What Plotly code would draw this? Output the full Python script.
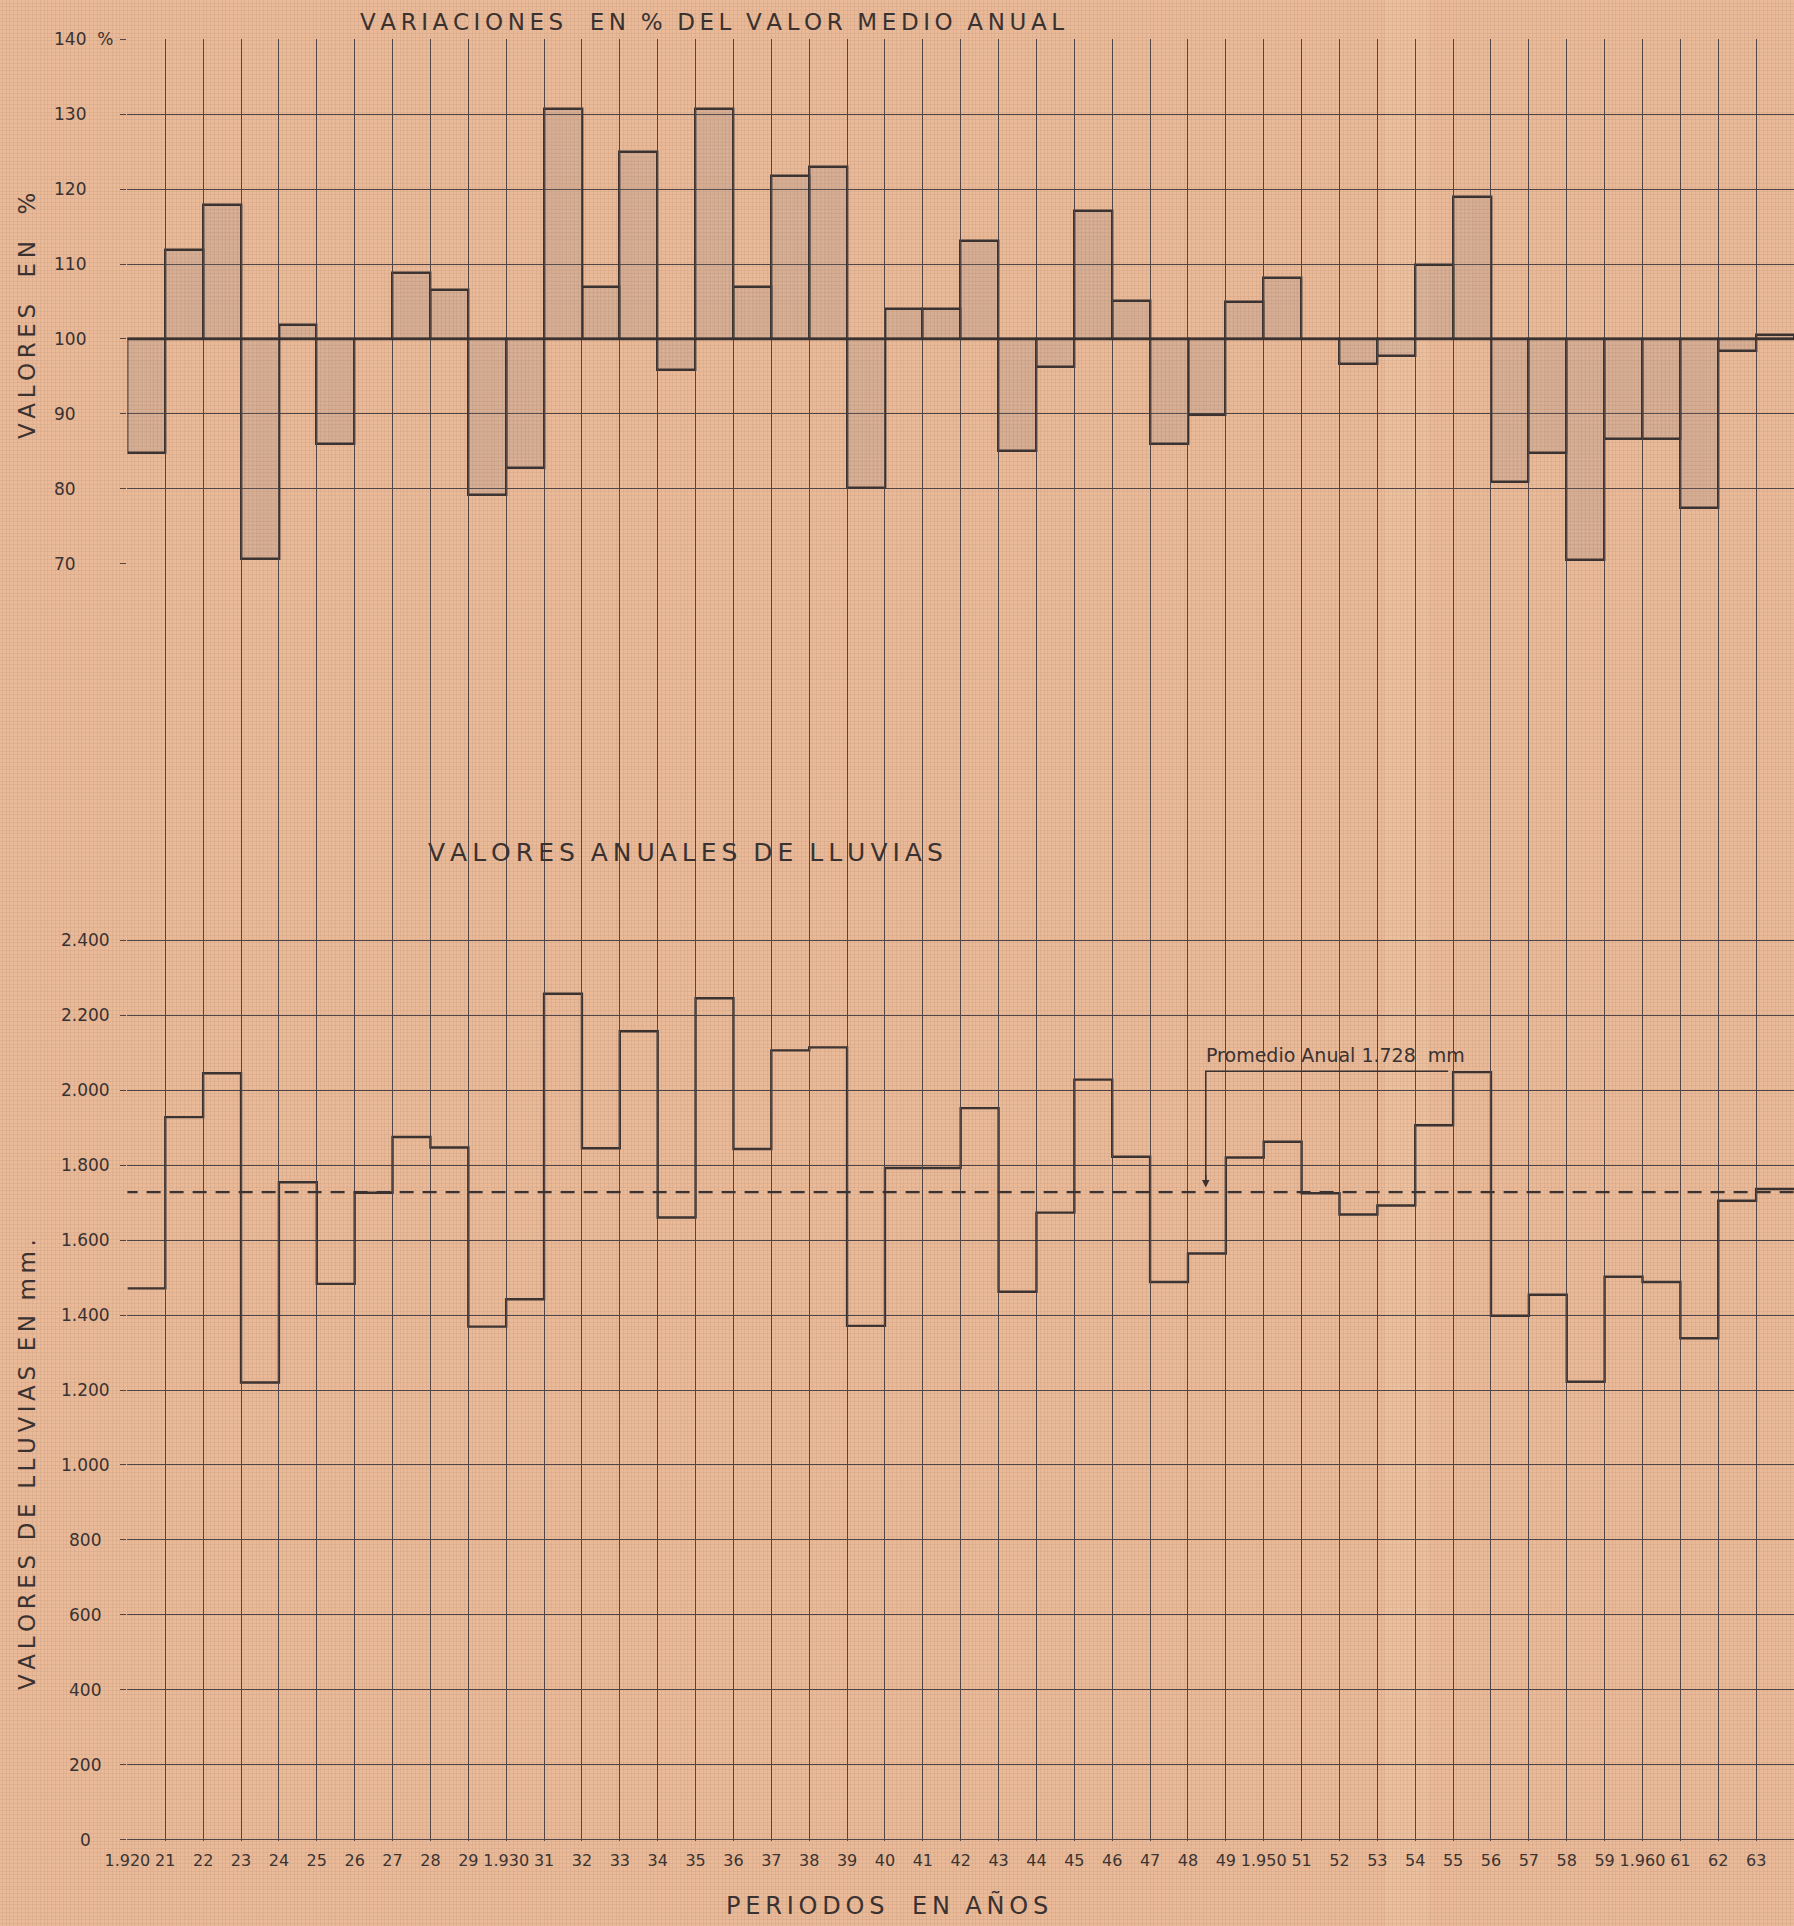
import plotly.graph_objects as go

# --- data ---
YEARS = list(range(1920, 1964))

PCT = [84.8, 111.9, 117.9, 70.6, 101.9, 86.0, 100.0, 108.8, 106.6, 79.1,
       82.8, 130.7, 106.9, 124.9, 95.8, 130.7, 106.9, 121.7, 123.0, 80.1,
       104.0, 104.0, 113.1, 85.0, 96.2, 117.1, 105.1, 86.0, 89.9, 105.0,
       108.1, 100.0, 96.7, 97.7, 109.9, 118.9, 80.9, 84.8, 70.5, 86.6,
       86.6, 77.4, 98.4, 100.5]

MM = [1471, 1928, 2045, 1220, 1754, 1483, 1726, 1875, 1847, 1369,
      1442, 2257, 1845, 2157, 1660, 2245, 1843, 2106, 2114, 1371,
      1792, 1792, 1952, 1462, 1673, 2028, 1822, 1488, 1564, 1820,
      1862, 1725, 1668, 1692, 1906, 2048, 1398, 1454, 1222, 1502,
      1488, 1338, 1705, 1736]

MEAN_MM = 1728
BASE_PCT = 100

X_TICKS = list(range(1920, 1965))
X_LABELS = ["1.920" if y == 1920 else "1.930" if y == 1930 else "1.950" if y == 1950
            else "1.960" if y == 1960 else "1.964" if y == 1964 else str(y)[2:]
            for y in X_TICKS]
PCT_TICKS = [70, 80, 90, 100, 110, 120, 130, 140]
MM_TICKS = list(range(0, 2401, 200))

# --- page geometry (pixels) ---
W, H = 1794, 1926
X0_PX = 127.4          # 1920 line
TOP140_PX, TOP70_PX = 39, 564
BOT2400_PX, BOT0_PX = 939, 1841

BG = "#E9B998"
INK = "#3a3231"
GRID = "#4f4546"
FONT = "DejaVu Sans"


def fx(px):
    return px / W


def fy(py):
    return 1 - py / H


def spaced(s):
    # hand lettering is letter-spaced
    return "\u2009".join(s).replace("\u2009 \u2009", "\u00a0\u00a0")


x_dom = [fx(X0_PX), 1.0]
x_span = X_TICKS[-1] - X_TICKS[0]
x3_lo = X_TICKS[0] - x_span * x_dom[0] / (1 - x_dom[0])

y2_dom = [fy(BOT0_PX), fy(BOT2400_PX)]
mm_per = 2400 / (y2_dom[1] - y2_dom[0])
y3_lo = -y2_dom[0] * mm_per
y3_hi = 2400 + (1 - y2_dom[1]) * mm_per

fig = go.Figure()

# faint graph-paper grid
fig.add_trace(go.Scatter(x=[], y=[], xaxis="x3", yaxis="y3", showlegend=False))
# full-height subplot so the year lines run through the gap between panels
fig.add_trace(go.Scatter(x=[], y=[], xaxis="x", yaxis="y4", showlegend=False))

# top panel: deviation bars around 100 %
fig.add_trace(go.Bar(
    x=[y + 0.5 for y in YEARS],
    y=[p - BASE_PCT for p in PCT],
    base=BASE_PCT,
    width=1,
    xaxis="x", yaxis="y",
    marker=dict(color="rgba(130,125,130,0.16)",
                line=dict(color=INK, width=2.4),
                pattern=dict(shape="+", size=4, solidity=0.2,
                             fgcolor="rgba(85,80,85,0.22)", fillmode="overlay")),
    showlegend=False,
))

# bottom panel: annual rainfall as steps
fig.add_trace(go.Scatter(
    x=YEARS + [YEARS[-1] + 1],
    y=MM + [MM[-1]],
    mode="lines",
    line=dict(shape="hv", color=INK, width=2.4),
    xaxis="x", yaxis="y2",
    showlegend=False,
))

# lighter fold in the paper
fig.add_shape(type="rect", xref="paper", yref="paper", x0=fx(1385), x1=fx(1428),
              y0=0, y1=1, fillcolor="rgba(255,225,195,0.16)", line=dict(width=0),
              layer="below")

fig.add_shape(type="line", xref="x", yref="y", x0=X_TICKS[0], x1=X_TICKS[-1],
              y0=BASE_PCT, y1=BASE_PCT, line=dict(color=INK, width=2.6))
fig.add_shape(type="line", xref="x", yref="y2", x0=X_TICKS[0] - 0.1, x1=X_TICKS[-1],
              y0=MEAN_MM, y1=MEAN_MM, line=dict(color=INK, width=2.2, dash="14px,9px"))

# label of the mean with its leader
lx0, lx1, ly = 1948.47, 1954.87, 2050
fig.add_shape(type="path", xref="x", yref="y2",
              path=f"M {lx1},{ly} L {lx0},{ly} L {lx0},{MEAN_MM + 30}",
              line=dict(color=INK, width=1.5))
fig.add_annotation(x=lx0, y=MEAN_MM + 12, xref="x", yref="y2", text="",
                   showarrow=True, arrowhead=2, arrowsize=1, arrowwidth=1.5,
                   arrowcolor=INK, ax=0, ay=-14)
fig.add_annotation(x=lx0 - 0.05, y=ly + 10, xref="x", yref="y2",
                   text="Promedio Anual 1.728\u00a0\u00a0mm", showarrow=False,
                   xanchor="left", yanchor="bottom",
                   font=dict(family=FONT, size=19, color=INK))

# y tick labels (hand lettered positions)
for v in PCT_TICKS:
    txt = f"{v}\u00a0\u00a0%" if v == 140 else str(v)
    fig.add_annotation(x=fx(52), y=v, xref="paper", yref="y", text=txt,
                       showarrow=False, xanchor="left",
                       font=dict(family=FONT, size=17, color=INK))
for v in MM_TICKS:
    fig.add_annotation(x=fx(85), y=v, xref="paper", yref="y2",
                       text=f"{v:,}".replace(",", "."), showarrow=False,
                       xanchor="center", font=dict(family=FONT, size=17, color=INK))

titles = [
    (spaced("VARIACIONES  EN % DEL VALOR MEDIO ANUAL"), 712, 22, 0, 23),
    (spaced("VALORES ANUALES DE LLUVIAS"), 685, 852, 0, 25),
    (spaced("PERIODOS  EN AÑOS"), 887, 1905, 0, 24),
    (spaced("VALORES  EN  %"), 27, 316, -90, 23),
    (spaced("VALORES DE LLUVIAS EN mm."), 27, 1465, -90, 23),
]
for txt, px, py, ang, size in titles:
    fig.add_annotation(x=fx(px), y=fy(py), xref="paper", yref="paper", text=txt,
                       showarrow=False, textangle=ang, xanchor="center", yanchor="middle",
                       font=dict(family=FONT, size=size, color=INK))

fig.update_layout(
    width=W, height=H,
    margin=dict(l=0, r=0, t=0, b=0, autoexpand=False),
    paper_bgcolor=BG, plot_bgcolor="rgba(0,0,0,0)",
    bargap=0,
    xaxis=dict(domain=x_dom, range=[X_TICKS[0], X_TICKS[-1]], anchor="y2",
               automargin=False,
               tickmode="array", tickvals=X_TICKS, ticktext=X_LABELS,
               showgrid=True, gridcolor=GRID, gridwidth=1.4, zeroline=False,
               showline=False, ticks="", ticklabelstandoff=8,
               tickfont=dict(family=FONT, size=16, color=INK)),
    yaxis=dict(domain=[fy(TOP70_PX), fy(TOP140_PX)], range=[69.95, 140.05], anchor="x",
               automargin=False,
               tickmode="array", tickvals=PCT_TICKS, showticklabels=False,
               showgrid=True, gridcolor=GRID, gridwidth=1.4, zeroline=False,
               ticks="outside", ticklen=6, tickcolor=GRID, tickwidth=1.4),
    yaxis2=dict(domain=y2_dom, range=[-3, 2403], anchor="x", automargin=False,
                tickmode="array", tickvals=MM_TICKS, showticklabels=False,
                showgrid=True, gridcolor=GRID, gridwidth=1.4, zeroline=False,
                ticks="outside", ticklen=6, tickcolor=GRID, tickwidth=1.4),
    yaxis4=dict(domain=[fy(BOT0_PX), fy(TOP140_PX)], range=[0, 1], anchor="x",
                visible=False, showgrid=False, automargin=False),
    xaxis3=dict(domain=[0, 1], range=[x3_lo, X_TICKS[-1]], anchor="y3", automargin=False,
                dtick=0.1, tick0=1920, showgrid=True, gridcolor="rgba(120,85,70,0.08)",
                gridwidth=0.6, zeroline=False, showticklabels=False, ticks=""),
    yaxis3=dict(domain=[0, 1], range=[y3_lo, y3_hi], anchor="x3", automargin=False,
                dtick=10, tick0=0, showgrid=True, gridcolor="rgba(120,85,70,0.08)",
                gridwidth=0.6, zeroline=False, showticklabels=False, ticks=""),
)

fig.write_html("out.html", config={"displayModeBar": False},
               post_script="document.body.style.margin='0';")
